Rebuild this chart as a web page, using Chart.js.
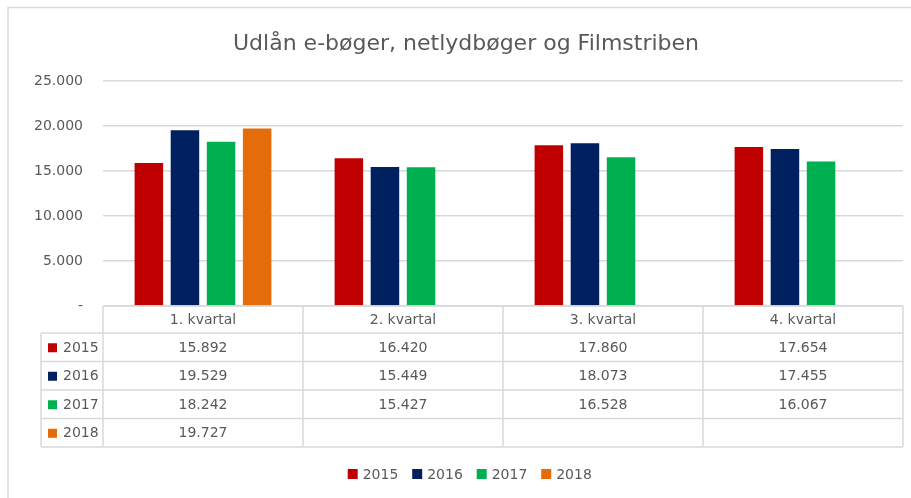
<!DOCTYPE html>
<html>
<head>
<meta charset="utf-8">
<script src="https://cdn.jsdelivr.net/npm/chart.js@4"></script>
<style>
  html,body{margin:0;padding:0;background:#fff;}
  #wrap{position:relative;width:911px;height:498px;}
</style>
</head>
<body>
<div id="wrap"><canvas id="c" width="911" height="498"></canvas></div>
<script>
const title = 'Udlån e-bøger, netlydbøger og Filmstriben';
const categories = ['1. kvartal', '2. kvartal', '3. kvartal', '4. kvartal'];
const seriesNames = ['2015', '2016', '2017', '2018'];
const values2015 = [15892, 16420, 17860, 17654];
const values2016 = [19529, 15449, 18073, 17455];
const values2017 = [18242, 15427, 16528, 16067];
const values2018 = [19727, null, null, null];
const seriesColors = ['#C00000', '#002060', '#00B050', '#E46C0A'];
const yMax = 25000;
const yStep = 5000;

const seriesValues = [values2015, values2016, values2017, values2018];
const FONT = '"DejaVu Sans", sans-serif';
const TXT = '#595959';
const LINE = '#d9d9d9';

function fmt(v) {
  if (v === 0) return '-';
  return String(Math.round(v)).replace(/\B(?=(\d{3})+(?!\d))/g, '.');
}

const decor = {
  id: 'decor',
  beforeDraw(chart) {
    const ctx = chart.ctx;
    ctx.save();
    ctx.strokeStyle = LINE;
    ctx.lineWidth = 1.5;
    ctx.beginPath();
    ctx.moveTo(8, 498);
    ctx.lineTo(8, 7.5);
    ctx.lineTo(911, 7.5);
    ctx.stroke();
    ctx.restore();
  },
  afterDraw(chart) {
    const ctx = chart.ctx;
    const area = chart.chartArea;
    const x = chart.scales.x;
    const n = categories.length;
    const colW = (area.right - area.left) / n;
    const top = area.bottom;
    const headH = 27;
    const rowH = 28.5;
    const labelL = 41;
    ctx.save();
    // title
    ctx.fillStyle = TXT;
    ctx.font = '22px ' + FONT;
    ctx.textAlign = 'center';
    ctx.textBaseline = 'middle';
    ctx.fillText(title, 466, 44);

    // table lines
    ctx.strokeStyle = LINE;
    ctx.lineWidth = 1.5;
    ctx.beginPath();
    ctx.moveTo(area.left, top); ctx.lineTo(area.right, top);
    const bottom = top + headH + rowH * seriesNames.length;
    for (let r = 0; r <= seriesNames.length; r++) {
      const y = top + headH + r * rowH;
      ctx.moveTo(labelL, y); ctx.lineTo(area.right, y);
    }
    for (let c = 0; c <= n; c++) {
      const xx = area.left + c * colW;
      ctx.moveTo(xx, top); ctx.lineTo(xx, bottom);
    }
    ctx.moveTo(labelL, top + headH); ctx.lineTo(labelL, bottom);
    ctx.stroke();

    // header text
    ctx.fillStyle = TXT;
    ctx.font = '14px ' + FONT;
    ctx.textAlign = 'center';
    ctx.textBaseline = 'middle';
    categories.forEach((cat, i) => {
      ctx.fillText(cat, x.getPixelForValue(i), top + headH / 2 + 1);
    });
    // rows
    seriesNames.forEach((name, r) => {
      const cy = top + headH + r * rowH + rowH / 2 + 1;
      ctx.fillStyle = seriesColors[r];
      ctx.fillRect(48, cy - 5, 9, 9);
      ctx.fillStyle = TXT;
      ctx.textAlign = 'left';
      ctx.fillText(name, 63, cy);
      ctx.textAlign = 'center';
      seriesValues[r].forEach((v, i) => {
        if (v !== null && v !== undefined) ctx.fillText(fmt(v), x.getPixelForValue(i), cy);
      });
    });

    // bottom legend
    const pitch = 64.5;
    const startX = 347.7;
    const ly = 474;
    seriesNames.forEach((name, i) => {
      const lx = startX + i * pitch;
      ctx.fillStyle = seriesColors[i];
      ctx.fillRect(lx, ly - 5, 10, 10);
      ctx.fillStyle = TXT;
      ctx.textAlign = 'left';
      ctx.fillText(name, lx + 15, ly + 1);
    });
    ctx.restore();
  }
};

new Chart(document.getElementById('c'), {
  type: 'bar',
  data: {
    labels: categories,
    datasets: seriesNames.map((name, i) => ({
      label: name,
      data: seriesValues[i],
      backgroundColor: seriesColors[i],
      borderWidth: 0,
      categoryPercentage: 0.722,
      barPercentage: 0.79
    }))
  },
  options: {
    responsive: false,
    animation: false,
    devicePixelRatio: 1,
    layout: { padding: { top: 81, bottom: 192, left: 0, right: 8 } },
    plugins: { legend: { display: false }, title: { display: false }, tooltip: { enabled: false } },
    scales: {
      x: { display: false },
      y: {
        min: 0, max: yMax,
        ticks: { stepSize: yStep, callback: v => fmt(v), color: TXT, font: { family: 'DejaVu Sans', size: 14 }, padding: 20 },
        grid: { color: LINE, lineWidth: 1.5, drawTicks: false },
        border: { display: false },
        afterFit(s) { s.width = 103; }
      }
    }
  },
  plugins: [decor]
});
</script>
</body>
</html>
